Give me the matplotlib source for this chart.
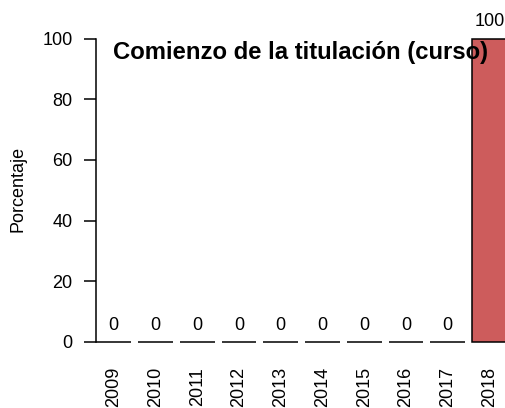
import matplotlib.pyplot as plt

# Datos del grafico
years = ["2009", "2010", "2011", "2012", "2013", "2014", "2015", "2016", "2017", "2018"]
values = [0, 0, 0, 0, 0, 0, 0, 0, 0, 100]
y_ticks = [0, 20, 40, 60, 80, 100]

plt.rcParams['font.family'] = ['Liberation Sans', 'DejaVu Sans']

W, H = 505, 408
fig = plt.figure(figsize=(W / 100, H / 100), dpi=100)

# zona de dibujo en pixeles (estilo barplot de R)
px_unit = 34.8
left_px, bottom_px, top_px = 96.3, 342, 38.5
ax = fig.add_axes([left_px / W, (H - bottom_px) / H,
                   12 * px_unit / W, (bottom_px - top_px) / H])

lefts = [0.2 + 1.2 * i for i in range(len(values))]
centers = [l + 0.5 for l in lefts]
ax.bar(centers, values, width=1.0, color="#CD5C5C", edgecolor="black",
       linewidth=1.1, clip_on=False)

for x, v in zip(centers, values):
    ax.annotate(str(v), (x, v), xytext=(0, 12.2), textcoords="offset points",
                ha="center", va="center", fontsize=13, annotation_clip=False)

ax.set_xlim(0.2, 12.2)
ax.set_ylim(0, 100)

for s in ["top", "right", "bottom"]:
    ax.spines[s].set_visible(False)
ax.spines["left"].set_linewidth(1.1)
ax.spines["left"].set_bounds(0, 100)

ax.set_yticks(y_ticks)
ax.set_yticklabels([str(t) for t in y_ticks], fontsize=13)
ax.tick_params(axis="y", length=8.6, width=1.1, pad=8.6)

ax.set_xticks(centers)
ax.set_xticklabels(years, rotation=90, fontsize=13)
ax.tick_params(axis="x", length=0, pad=18)

fig.text((left_px + W) / 2 / W, 1 - 52 / H, "Comienzo de la titulación (curso)",
         ha="center", va="center", fontsize=17.2, fontweight="bold")
fig.text(18 / W, 1 - 189 / H, "Porcentaje", rotation=90,
         ha="center", va="center", fontsize=13)

fig.savefig("out.png", dpi=100)
